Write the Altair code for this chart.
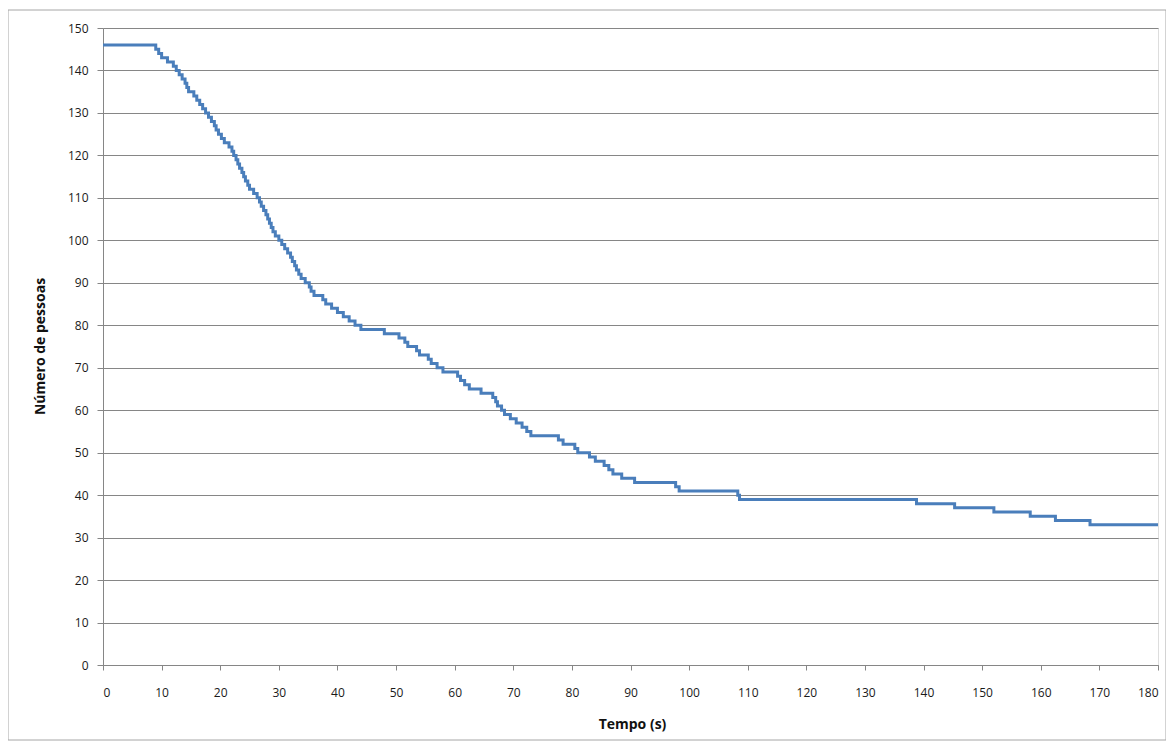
import altair as alt
import pandas as pd

tempo = [0, 9, 9.5, 10, 11, 12, 12.5, 13, 13.5, 14, 14.3, 14.6, 15.5, 16, 16.5, 17, 17.5,
         18, 18.5, 19, 19.3, 19.7, 20.2, 20.7, 21.5, 22, 22.3, 22.7, 23, 23.3, 23.7, 24,
         24.3, 24.7, 25, 25.7, 26.3, 26.7, 27, 27.4, 27.8, 28.1, 28.4, 28.7, 29, 29.4, 30,
         30.5, 31, 31.5, 32, 32.3, 32.7, 33, 33.4, 33.8, 34.5, 35.2, 35.5, 36, 37.5, 38, 39,
         40, 41, 42, 43, 44, 48, 50.5, 51.5, 52, 53.5, 54, 55.5, 56, 57, 58, 60.5, 61, 61.7,
         62.5, 64.5, 66.5, 67, 67.3, 68, 68.5, 69.5, 70.5, 71.5, 72.3, 73, 77.7, 78.5, 80.5,
         81, 83, 84, 85.5, 86.3, 87, 88.5, 90.7, 97.7, 98.3, 108.3, 108.6, 138.8, 145.3, 152,
         158.2, 162.5, 168.4, 180]
pessoas = [146, 145, 144, 143, 142, 141, 140, 139, 138, 137, 136, 135, 134, 133, 132, 131, 130,
           129, 128, 127, 126, 125, 124, 123, 122, 121, 120, 119, 118, 117, 116, 115,
           114, 113, 112, 111, 110, 109, 108, 107, 106, 105, 104, 103, 102, 101, 100,
           99, 98, 97, 96, 95, 94, 93, 92, 91, 90, 89, 88, 87, 86, 85, 84,
           83, 82, 81, 80, 79, 78, 77, 76, 75, 74, 73, 72, 71, 70, 69, 68, 67, 66,
           65, 64, 63, 62, 61, 60, 59, 58, 57, 56, 55, 54, 53, 52, 51,
           50, 49, 48, 47, 46, 45, 44, 43, 42, 41, 40, 39, 38, 37, 36,
           35, 34, 33, 33]

df = pd.DataFrame({"t": tempo, "n": pessoas})

W, H = 1055, 637
FONT = "Open Sans"

border = alt.Chart(pd.DataFrame({"a": [0]})).mark_rect(
    fill=None, stroke="#a6a6a6", strokeWidth=1, clip=False
).encode(
    x=alt.value(-95), x2=alt.value(1063), y=alt.value(-18), y2=alt.value(712)
)

line = alt.Chart(df).mark_line(
    interpolate="step-after", color="#4a7ebb", strokeWidth=3
).encode(
    x=alt.X("t:Q", scale=alt.Scale(domain=[0, 180], nice=False),
            axis=alt.Axis(values=list(range(0, 181, 10)), grid=False, title="Tempo (s)",
                          labelFont=FONT, labelFontSize=12, labelColor="#1a1a1a",
                          labelPadding=17, tickSize=5, tickColor="#868686",
                          domainColor="#868686", titleFont=FONT, titleFontSize=14,
                          titleFontWeight="bold", titleColor="#111",
                          titleX=529, titleY=59, titleAlign="center",
                          titleBaseline="middle")),
    y=alt.Y("n:Q", scale=alt.Scale(domain=[0, 150], nice=False),
            axis=alt.Axis(values=list(range(0, 151, 10)), grid=True, gridColor="#868686",
                          gridWidth=1, title="Número de pessoas",
                          labelFont=FONT, labelFontSize=12, labelColor="#1a1a1a",
                          labelPadding=9, tickSize=6, tickColor="#868686",
                          domainColor="#868686", titleFont=FONT, titleFontSize=14,
                          titleFontWeight="bold", titleColor="#111",
                          titleX=-63, titleY=318, titleAlign="center",
                          titleBaseline="middle", titleAngle=-90))
)

chart = alt.layer(border, line).properties(
    width=W, height=H,
    autosize=alt.AutoSizeParams(type="none"),
    padding={"left": 95, "top": 20, "right": 8, "bottom": 78},
).configure_view(stroke=None).configure(background="white")

chart.save("out.html", embed_options={"renderer": "svg", "actions": False})
